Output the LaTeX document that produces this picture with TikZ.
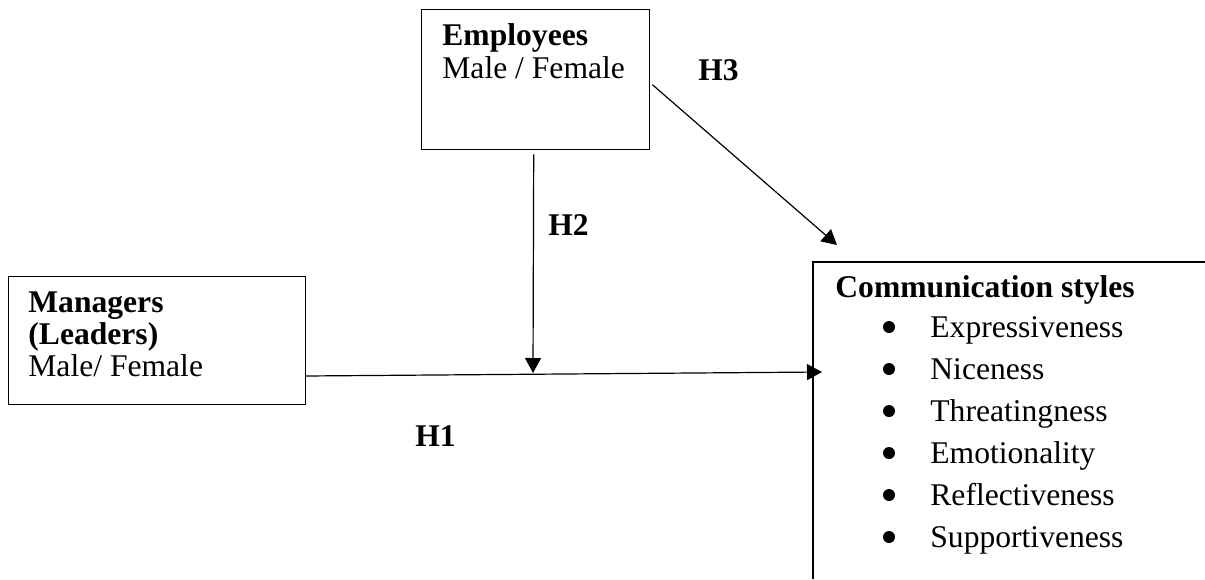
\documentclass[tikz,border=0pt]{standalone}
\usepackage{fontspec}
\setmainfont{Liberation Serif}
\usetikzlibrary{arrows.meta,calc}
\tikzset{
  boxnode/.style={draw, line width=0.7pt, inner sep=0pt, anchor=north west},
  txt/.style={anchor=base west, inner sep=0pt, font=\fontsize{15.8}{18}\selectfont},
  btxt/.style={txt, font=\fontsize{15.8}{18}\selectfont\bfseries},
  bul/.style={circle, fill=black, inner sep=0pt, minimum size=6pt},
  arr/.style={line width=0.6pt, -{Triangle[length=7.5pt,width=8pt]}},
  line/.style={line width=0.7pt}
}
\begin{document}
\begin{tikzpicture}[x=0.5pt,y=-0.5pt]
\useasboundingbox (0,0) rectangle (1205,579);
% Employees box
\node[boxnode, minimum width=114pt, minimum height=70pt] (emp) at (421,9) {};
\node[btxt] (empt) at (442,45) {Employees};
\node[txt] (empg) at (442,78) {Male / Female};
% Managers box
\node[boxnode, minimum width=148.5pt, minimum height=64pt] (mgr) at (8,276) {};
\node[btxt] (mgrt) at (28,312) {Managers};
\node[btxt] (mgrl) at (28,344) {(Leaders)};
\node[txt] (mgrg) at (28,376) {Male/ Female};
% Communication styles box (open at right and bottom)
\coordinate (ctr) at (1205,262);
\coordinate (ctl) at (813,262);
\coordinate (cbl) at (813,579);
\draw[line] (ctr) -- (ctl) -- (cbl);
\node[btxt] (cst) at (835,297) {Communication styles};
\foreach \i/\t/\y in {1/Expressiveness/337,2/Niceness/379,3/Threatingness/421,4/Emotionality/463,5/Reflectiveness/505,6/Supportiveness/547}{
  \node[bul] (b\i) at (889,\y-10) {};
  \node[txt] (it\i) at (930,\y) {\t};
}
% connectors
\coordinate (h1s) at (305,376);
\coordinate (h1e) at (822,372);
\coordinate (h2e) at (533,373);
\coordinate (h3e) at (837,245);
\draw[arr] (h1s) -- (h1e);
\draw[arr] ($(emp.south)+(-2,4)$) -- (h2e);
\draw[arr] ($(emp.east)+(2,5)$) -- (h3e);
% labels
\node[btxt] (H3) at (698,80) {H3};
\node[btxt] (H2) at (548,235) {H2};
\node[btxt] (H1) at (415,446) {H1};
\end{tikzpicture}
\end{document}
